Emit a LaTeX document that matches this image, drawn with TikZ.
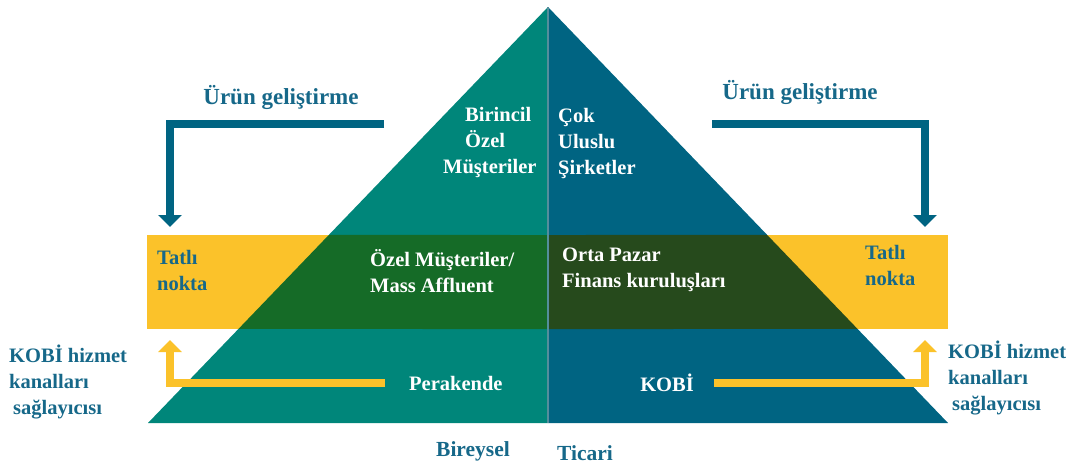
\documentclass[tikz,border=0pt]{standalone}
\usepackage{fontspec}
\setmainfont{Liberation Serif}
\usetikzlibrary{arrows.meta, positioning, calc}
\definecolor{cTeal}{RGB}{0,134,122}
\definecolor{cBlue}{RGB}{0,100,130}
\definecolor{cGold}{RGB}{251,194,42}
\definecolor{cGreenL}{RGB}{21,107,39}
\definecolor{cGreenR}{RGB}{38,74,28}
\definecolor{cLabel}{RGB}{22,104,137}
\definecolor{cMid}{RGB}{84,142,156}
\newcommand{\fmain}{\bfseries\fontsize{20.5}{26}\selectfont}
\newcommand{\fbig}{\bfseries\fontsize{23}{28}\selectfont}
\newcommand{\fbase}{\bfseries\fontsize{21.5}{26}\selectfont}
\tikzset{
	lbl/.style     ={inner sep=0pt, align=left, text=cLabel, font=\fmain},
	inlbl/.style   ={inner sep=0pt, align=left, text=white, font=\fmain},
	devarrow/.style={draw=cBlue, line width=8pt, -{Triangle[width=23pt, length=12pt]}},
	chanarrow/.style={draw=cGold, line width=8pt, -{Triangle[width=23pt, length=12pt]}},
	midline/.style ={draw=cMid, line width=1.5pt},
}
\begin{document}
\begin{tikzpicture}[x=1pt, y=-1pt]
	\useasboundingbox (0,0) rectangle (1077,464);
	\coordinate (apex) at (548,7);
	\coordinate (bl) at (148,423);
	\coordinate (bm) at (548,423);
	\coordinate (br) at (948,423);
	% pyramid halves
	\fill[cTeal] (apex) -- (bl) -- (bm) -- cycle;
	\fill[cBlue] (apex) -- (bm) -- (br) -- cycle;
	% sweet spot band
	\node[fill=cGold, minimum width=801pt, minimum height=94pt, inner sep=0pt, anchor=north west] (band) at (147,235) {};
	\fill[cGreenL] ($(apex)!0.548!(bl)$) -- ($(apex)!0.774!(bl)$) -- (548,329) -- (548,235) -- cycle;
	\fill[cGreenR] (548,235) -- (548,329) -- ($(apex)!0.774!(br)$) -- ($(apex)!0.548!(br)$) -- cycle;
	\draw[midline] (apex) -- (bm);
	% segment labels
	\node[inlbl, anchor=north west] (pb) at (443,107) {\hspace{22pt}Birincil\\\hspace{22pt}Özel\\Müşteriler};
	\node[inlbl, anchor=north west] (mnc) at (558,108) {Çok\\Uluslu\\Şirketler};
	\node[inlbl, anchor=north west] (ma) at (370,249) {Özel Müşteriler/\\Mass Affluent};
	\node[inlbl, anchor=north west] (mm) at (562,248) {Orta Pazar\\Finans kuruluşları};
	\node[lbl, anchor=north west] (sl) at (157,250) {Tatlı\\nokta};
	\node[lbl, anchor=north west] (sr) at (865,245) {Tatlı\\nokta};
	% product development arrows
	\node[lbl, font=\fbig, anchor=center] (pdl) at (281,97) {Ürün geliştirme};
	\node[lbl, font=\fbig, anchor=center] (pdr) at (800,92) {Ürün geliştirme};
	\coordinate (devL) at (384,124);
	\coordinate (devLtip) at (170,227);
	\coordinate (devR) at (712,124);
	\coordinate (devRtip) at (925,227);
	\draw[devarrow] (devL) -| (devLtip);
	\draw[devarrow] (devR) -| (devRtip);
	% channel arrows
	\coordinate (chanL) at (385,383);
	\coordinate (chanLtip) at (170,340);
	\coordinate (chanR) at (714,383);
	\coordinate (chanRtip) at (925,340);
	\draw[chanarrow] (chanL) -| (chanLtip);
	\draw[chanarrow] (chanR) -| (chanRtip);
	\node[inlbl, right=24pt of chanL] (ret) {Perakende};
	\node[inlbl, left=20pt of chanR] (sme) {KOBİ};
	\node[lbl, anchor=north west] (kl) at (9,345) {KOBİ hizmet\\kanalları\\\hspace{4pt}sağlayıcısı};
	\node[lbl, anchor=north west] (kr) at (948,341) {KOBİ hizmet\\kanalları\\\hspace{4pt}sağlayıcısı};
	% base captions
	\node[lbl, font=\fbase, anchor=base] (ind) at (473,456) {Bireysel};
	\node[lbl, font=\fbase, anchor=base] (com) at (585,460) {Ticari};
\end{tikzpicture}
\end{document}
